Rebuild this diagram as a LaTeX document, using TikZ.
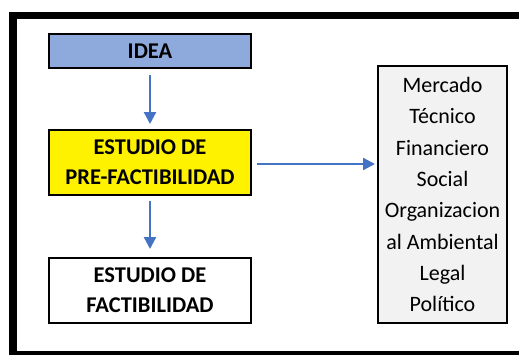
\documentclass[tikz,border=0pt]{standalone}
\usepackage{fontspec}
\setmainfont{Carlito}
\usetikzlibrary{arrows.meta}
\definecolor{ideablue}{RGB}{142,169,219}
\definecolor{arrowblue}{RGB}{68,114,196}
\definecolor{boxgray}{RGB}{242,242,242}
\begin{document}
\begin{tikzpicture}[x=1pt,y=-1pt,line join=miter,
	stage/.style={draw=black,line width=2pt,minimum width=202pt,inner sep=0pt,align=center,font=\fontsize{22.5}{30}\selectfont\bfseries},
	flow/.style={-{Triangle[length=12pt,width=12pt]},arrowblue,line width=2.3pt}]
	\useasboundingbox (0,0) rectangle (519,354);
	\clip (0,0) rectangle (519,354);
	% outer frame
	\draw[line width=7.5pt] (13,15.7) rectangle (523,355);
	% stages
	\node[stage,fill=ideablue,minimum height=34pt] (idea) at (150,51) {IDEA};
	\node[stage,fill=yellow,minimum height=65pt] (prefact) at (150,162.5) {ESTUDIO DE\\PRE-FACTIBILIDAD};
	\node[stage,fill=white,minimum height=65pt] (fact) at (150,290.5) {ESTUDIO DE\\FACTIBILIDAD};
	% aspects
	\node[draw=black,line width=2pt,fill=boxgray,minimum width=129pt,minimum height=257pt,inner sep=0pt,align=center,font=\fontsize{22}{31.3}\selectfont] (aspects) at (442.5,194.5)
		{Mercado\\Técnico\\Financiero\\Social\\Organizacion\\al Ambiental\\Legal\\Político};
	\draw[flow,shorten <=6pt,shorten >=5pt] (idea) -- (prefact);
	\draw[flow,shorten <=5pt,shorten >=8pt] (prefact) -- (fact);
	\draw[flow,shorten <=5pt,shorten >=2pt] (prefact.east) ++(0,1.5) coordinate (out) -- (out -| aspects.west);
\end{tikzpicture}
\end{document}
